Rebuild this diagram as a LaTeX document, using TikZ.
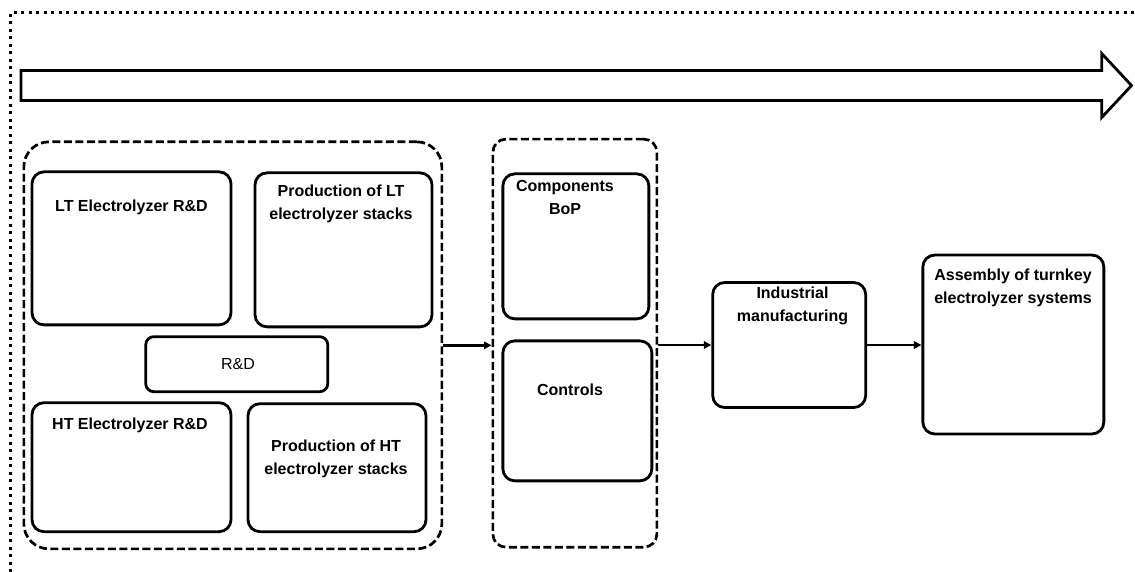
\documentclass[tikz,border=0pt]{standalone}
\usepackage{fontspec}
\setmainfont{Liberation Sans}
\usetikzlibrary{arrows.meta}
\begin{document}
\begin{tikzpicture}[x=1pt,y=-1pt,
  box/.style={draw, line width=2.8pt, rounded corners=12pt, inner sep=0pt},
  group/.style={draw, line width=2.7pt, dash pattern=on 8pt off 3.5pt, inner sep=0pt},
  txt/.style={font=\fontsize{16}{23}\selectfont\bfseries, align=center, inner sep=0pt},
  txtn/.style={font=\fontsize{16}{23}\selectfont, align=center, inner sep=0pt},
  conn/.style={line width=2.3pt, -{Triangle[length=7.5pt,width=7.5pt]}}]
\useasboundingbox (0,0) rectangle (1135,572);
% dotted frame
\draw[line width=3pt, dash pattern=on 3pt off 4.5pt] (10,572) -- (10,13) -- (1135,13);
% big arrow
\draw[line width=2.8pt, line join=miter] (21,70.5) -- (1101.7,70.5) -- (1101.7,53.5) -- (1131.5,85.5) -- (1101.7,117.5) -- (1101.7,100.5) -- (21,100.5) -- cycle;
% groups
\node[group, rounded corners=25pt, minimum width=418, minimum height=407] (g1) at (232.85,345.35) {};
\node[group, rounded corners=13pt, minimum width=164, minimum height=408] (g2) at (574.85,343.15) {};
% boxes
\node[box, minimum width=199, minimum height=153] (lt) at (131.5,248.35) {};
\node[box, minimum width=177, minimum height=154] (plt) at (343.5,249.85) {};
\node[box, minimum width=182, minimum height=55, rounded corners=8pt] (rd) at (236.75,364.2) {};
\node[box, minimum width=199, minimum height=129] (ht) at (131.5,467.2) {};
\node[box, minimum width=178, minimum height=128] (pht) at (337,467.7) {};
\node[box, minimum width=146, minimum height=145] (bop) at (575.85,246.35) {};
\node[box, minimum width=149, minimum height=140] (ctl) at (577.35,410.85) {};
\node[box, minimum width=153, minimum height=125] (ind) at (789.2,345) {};
\node[box, minimum width=181, minimum height=179] (asm) at (1013.35,344.5) {};
% texts
\node[txt] (tlt) at (131.5,207) {LT Electrolyzer R\&D};
\node[txt] (tplt) at (341,203.5) {Production of LT\\electrolyzer stacks};
\node[txtn] (trd) at (238,364) {R\&D};
\node[txt] (tht) at (130,425) {HT Electrolyzer R\&D};
\node[txt] (tpht) at (336,458.5) {Production of HT\\electrolyzer stacks};
\node[txt] (tbop) at (565,197) {Components\\BoP};
\node[txt] (tctl) at (570,389.5) {Controls};
\node[txt] (tind) at (792.5,306) {Industrial\\manufacturing};
\node[txt] (tasm) at (1013,288) {Assembly of turnkey\\electrolyzer systems};
% connectors
\draw[conn] (g1.east) -- (g1.east -| g2.west);
\draw[conn] (g2.east |- ind.west) -- (ind.west);
\draw[conn] (ind.east) -- (ind.east -| asm.west);
\end{tikzpicture}
\end{document}
